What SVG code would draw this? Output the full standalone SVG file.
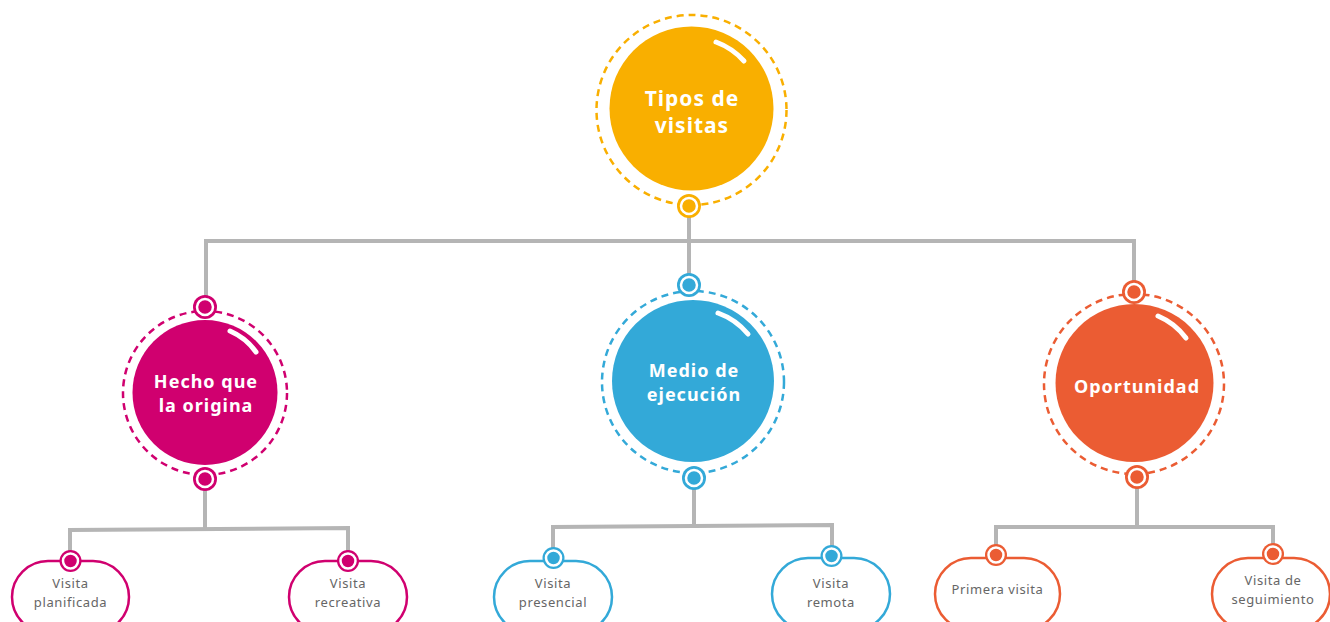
<svg xmlns="http://www.w3.org/2000/svg" width="1330" height="622" viewBox="0 0 1330 622">
<style>
.ln{fill:none;stroke:#b5b5b5;stroke-width:4;stroke-linejoin:miter}
.ring{fill:none;stroke-width:2.5;stroke-dasharray:7 5}
.hl{fill:none;stroke:#fff;stroke-width:5;stroke-linecap:round}
.t{font-family:"Noto Sans","Open Sans",sans-serif;font-weight:700;fill:#fff;text-anchor:middle;letter-spacing:1px}
.l{font-family:"Noto Sans","Open Sans",sans-serif;font-size:13px;fill:#666;text-anchor:middle;letter-spacing:0.6px}
.pill{fill:#fff;stroke-width:2.5}
.dw{stroke:#fff;stroke-width:2.5}
.y{fill:#F9AF00;stroke:#F9AF00}
.m{fill:#D0006F;stroke:#D0006F}
.b{fill:#33A9D8;stroke:#33A9D8}
.o{fill:#EB5C33;stroke:#EB5C33}
</style>
<g id="connectors">
<polyline class="ln" points="689,206 689,285"/>
<polyline class="ln" points="206,307 206,241 1134,241 1134,292"/>
<polyline class="ln" points="205,479 205,529"/>
<polyline class="ln" points="70,561 70,530 348,528 348,561"/>
<polyline class="ln" points="694,478 694,525"/>
<polyline class="ln" points="553,558 553,527 832,525 832,556"/>
<polyline class="ln" points="1137,477 1137,526"/>
<polyline class="ln" points="996,555 996,527 1273,527 1273,554"/>
</g>
<g id="node-tipos">
<circle cx="691.5" cy="110" r="95" class="ring" style="stroke:#F9AF00"/>
<circle cx="691.5" cy="108.5" r="82" style="fill:#F9AF00"/>
<path class="hl" d="M716,42 A71,71 0 0 1 744,61"/>
<text class="t" font-size="21" x="692" y="106">Tipos de</text>
<text class="t" font-size="21" x="692" y="133">visitas</text>
<circle cx="689" cy="206" r="12" style="fill:#F9AF00"/>
<circle cx="689" cy="206" r="8" class="y dw" style="stroke:#fff"/>
</g>
<g id="node-hecho">
<circle cx="205" cy="393" r="82" class="ring" style="stroke:#D0006F"/>
<circle cx="205" cy="392.5" r="72.5" style="fill:#D0006F"/>
<path class="hl" d="M230,331 A62,62 0 0 1 256,352"/>
<text class="t" font-size="18" x="206" y="388">Hecho que</text>
<text class="t" font-size="18" x="206" y="412">la origina</text>
<circle cx="205" cy="307" r="12" style="fill:#D0006F"/>
<circle cx="205" cy="307" r="8" class="m dw" style="stroke:#fff"/>
<circle cx="205" cy="479" r="12" style="fill:#D0006F"/>
<circle cx="205" cy="479" r="8" class="m dw" style="stroke:#fff"/>
</g>
<g id="node-medio">
<circle cx="693" cy="382" r="91" class="ring" style="stroke:#33A9D8"/>
<circle cx="693" cy="381" r="81" style="fill:#33A9D8"/>
<path class="hl" d="M718,313 A70,70 0 0 1 748,334"/>
<text class="t" font-size="18" x="694" y="377">Medio de</text>
<text class="t" font-size="18" x="694" y="401">ejecución</text>
<circle cx="689" cy="285" r="12" style="fill:#33A9D8"/>
<circle cx="689" cy="285" r="8" class="b dw" style="stroke:#fff"/>
<circle cx="694" cy="478" r="12" style="fill:#33A9D8"/>
<circle cx="694" cy="478" r="8" class="b dw" style="stroke:#fff"/>
</g>
<g id="node-oportunidad">
<circle cx="1134" cy="384" r="90" class="ring" style="stroke:#EB5C33"/>
<circle cx="1134.5" cy="383" r="79" style="fill:#EB5C33"/>
<path class="hl" d="M1158,316 A68,68 0 0 1 1186,338"/>
<text class="t" font-size="18" x="1137" y="393">Oportunidad</text>
<circle cx="1134" cy="292" r="12" style="fill:#EB5C33"/>
<circle cx="1134" cy="292" r="8" class="o dw" style="stroke:#fff"/>
<circle cx="1137" cy="477" r="12" style="fill:#EB5C33"/>
<circle cx="1137" cy="477" r="8" class="o dw" style="stroke:#fff"/>
</g>
<g id="leaf-planificada">
<rect x="12" y="561" width="117" height="72" rx="36" class="pill" style="stroke:#D0006F"/>
<text class="l" x="70.5" y="588">Visita</text>
<text class="l" x="70.5" y="607">planificada</text>
<circle cx="70.5" cy="561" r="11" style="fill:#D0006F"/>
<circle cx="70.5" cy="561" r="7.5" class="m dw" style="stroke:#fff"/>
</g>
<g id="leaf-recreativa">
<rect x="289" y="561" width="118" height="72" rx="36" class="pill" style="stroke:#D0006F"/>
<text class="l" x="348" y="588">Visita</text>
<text class="l" x="348" y="607">recreativa</text>
<circle cx="348" cy="561" r="11" style="fill:#D0006F"/>
<circle cx="348" cy="561" r="7.5" class="m dw" style="stroke:#fff"/>
</g>
<g id="leaf-presencial">
<rect x="494" y="561" width="118" height="72" rx="36" class="pill" style="stroke:#33A9D8"/>
<text class="l" x="553" y="588">Visita</text>
<text class="l" x="553" y="607">presencial</text>
<circle cx="553.5" cy="558" r="11" style="fill:#33A9D8"/>
<circle cx="553.5" cy="558" r="7.5" class="b dw" style="stroke:#fff"/>
</g>
<g id="leaf-remota">
<rect x="772" y="558" width="118" height="72" rx="36" class="pill" style="stroke:#33A9D8"/>
<text class="l" x="831" y="588">Visita</text>
<text class="l" x="831" y="607">remota</text>
<circle cx="831.5" cy="556" r="11" style="fill:#33A9D8"/>
<circle cx="831.5" cy="556" r="7.5" class="b dw" style="stroke:#fff"/>
</g>
<g id="leaf-primera">
<rect x="935" y="558" width="125" height="72" rx="36" class="pill" style="stroke:#EB5C33"/>
<text class="l" x="997.5" y="594">Primera visita</text>
<circle cx="996" cy="555" r="11" style="fill:#EB5C33"/>
<circle cx="996" cy="555" r="7.5" class="o dw" style="stroke:#fff"/>
</g>
<g id="leaf-seguimiento">
<rect x="1212" y="558" width="118" height="72" rx="36" class="pill" style="stroke:#EB5C33"/>
<text class="l" x="1273" y="585">Visita de</text>
<text class="l" x="1273" y="604">seguimiento</text>
<circle cx="1273" cy="554" r="11" style="fill:#EB5C33"/>
<circle cx="1273" cy="554" r="7.5" class="o dw" style="stroke:#fff"/>
</g>
</svg>
